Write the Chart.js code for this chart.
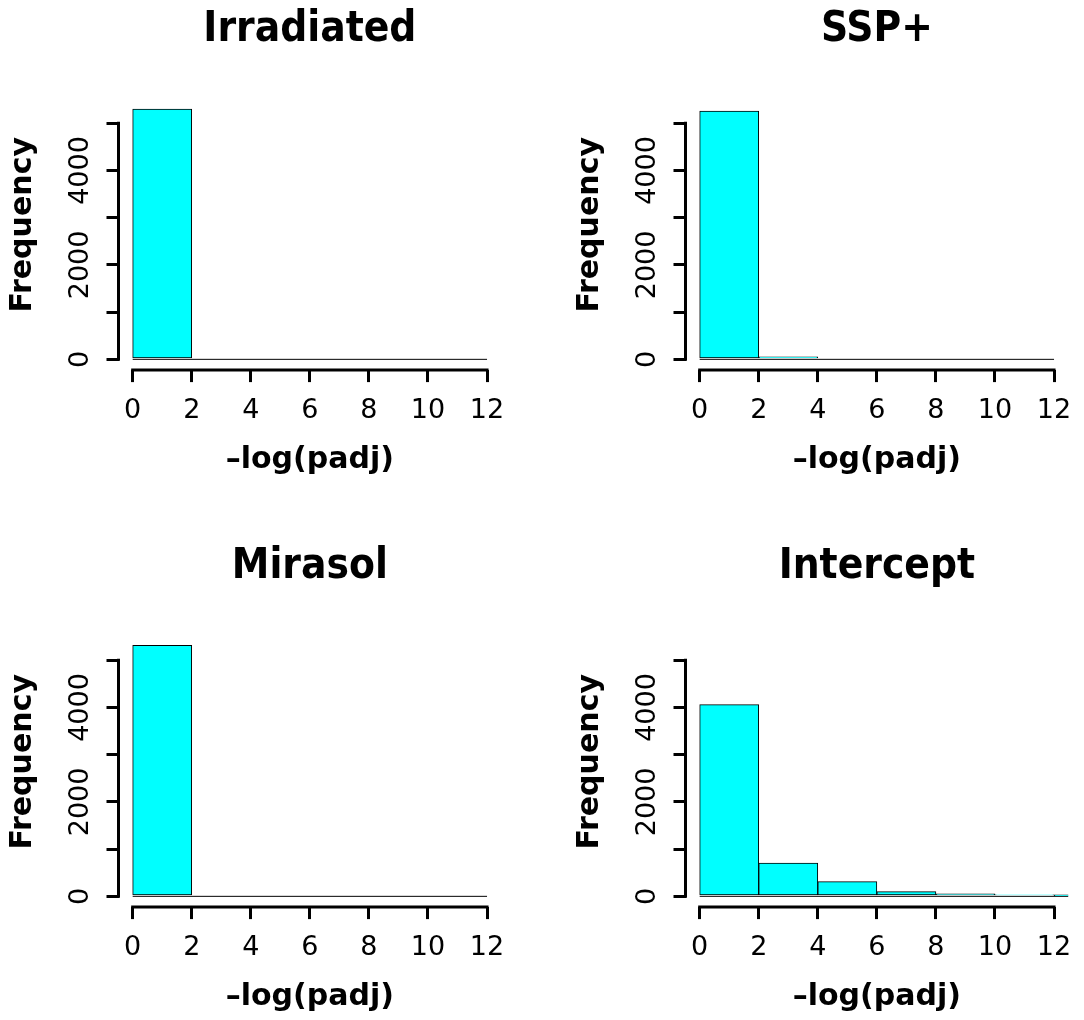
<!DOCTYPE html>
<html>
<head>
<meta charset="utf-8">
<script src="https://cdn.jsdelivr.net/npm/chart.js@4.4.1/dist/chart.umd.min.js"></script>
<style>
    html, body { margin: 0; padding: 0; background: #fff; }
    #page { position: relative; width: 1084px; height: 1020px; overflow: hidden; background: #fff; }
    #page canvas { position: absolute; }
</style>
</head>
<body>
<div id="page">
    <canvas id="chart0" width="517" height="538" style="left:0px;top:0px;"></canvas>
    <canvas id="chart1" width="517" height="538" style="left:567px;top:0px;"></canvas>
    <canvas id="chart2" width="517" height="538" style="left:0px;top:537px;"></canvas>
    <canvas id="chart3" width="517" height="538" style="left:567px;top:537px;"></canvas>
</div>
<script>
// histogram bins (-log(padj)) and counts
let breaks = [0, 2, 4, 6, 8, 10, 12];
let interceptBreaks = [0, 2, 4, 6, 8, 10, 12, 14];

let irradiatedCounts = [5303, 0, 0, 0, 0, 0];
let sspCounts = [5261, 52, 0, 0, 0, 0];
let mirasolCounts = [5318, 0, 0, 0, 0, 0];
let interceptCounts = [4060, 705, 310, 100, 55, 30, 12];

let xLimits = [0, 12];
let yLimits = [0, 5700];
let xTicks = [0, 2, 4, 6, 8, 10, 12];
let yTicks = [0, 1000, 2000, 3000, 4000, 5000];
let xTickLabels = ['0', '2', '4', '6', '8', '10', '12'];
let yTickLabels = ['0', '2000', '4000'];

Chart.defaults.font.family = "'DejaVu Sans', Verdana, sans-serif";
Chart.defaults.color = '#000';

// R draws its axis lines only from the first to the last tick
const rAxisLines = {
    id: 'rAxisLines',
    afterDraw(chart) {
        let ctx = chart.ctx;
        let area = chart.chartArea;
        let xs = chart.scales.x;
        let ys = chart.scales.y;

        ctx.save();
        ctx.strokeStyle = '#000';
        ctx.lineWidth = 3;
        ctx.lineCap = 'square';
        ctx.beginPath();
        ctx.moveTo(xs.getPixelForValue(xTicks[0]), area.bottom);
        ctx.lineTo(xs.getPixelForValue(xTicks[xTicks.length - 1]), area.bottom);
        ctx.moveTo(area.left, ys.getPixelForValue(yTicks[0]));
        ctx.lineTo(area.left, ys.getPixelForValue(yTicks[yTicks.length - 1]));
        ctx.stroke();
        ctx.restore();
    }
};

function makeHist(canvasId, title, counts, bins) {
    let bars = counts.map((c, i) => ({ x: (bins[i] + bins[i + 1]) / 2, y: c }));
    let baseline = [{ x: bins[0], y: 0 }, { x: bins[bins.length - 1], y: 0 }];
    let xPad = 0.04 * (xLimits[1] - xLimits[0]);
    let yPad = 0.04 * (yLimits[1] - yLimits[0]);

    return new Chart(document.getElementById(canvasId), {
        type: 'bar',
        data: {
            datasets: [
                {
                    label: title,
                    data: bars,
                    order: 1,
                    backgroundColor: '#00ffff',
                    borderColor: '#000',
                    borderWidth: 1,
                    borderSkipped: false,
                    barPercentage: 1,
                    categoryPercentage: 1
                },
                {
                    // zero-count bins still show as a flat outline, like R
                    type: 'line',
                    data: baseline,
                    order: 2,
                    borderColor: '#000',
                    borderWidth: 1,
                    pointRadius: 0
                }
            ]
        },
        options: {
            responsive: false,
            animation: false,
            devicePixelRatio: 1,
            layout: {
                padding: { top: 0, left: 0, right: 0, bottom: 47.9 }
            },
            plugins: {
                legend: { display: false },
                tooltip: { enabled: false },
                title: {
                    display: true,
                    text: title,
                    fullSize: false,
                    color: '#000',
                    font: { family: "'DejaVu Sans Condensed', 'DejaVu Sans', sans-serif", size: 42, weight: 'bold' },
                    padding: { top: 4.8, bottom: 24.3 }
                }
            },
            scales: {
                x: {
                    type: 'linear',
                    min: xLimits[0] - xPad,
                    max: xLimits[1] + xPad,
                    offset: false,
                    afterBuildTicks: s => { s.ticks = xTicks.map(v => ({ value: v })); },
                    ticks: {
                        autoSkip: false,
                        maxRotation: 0,
                        padding: 12.2,
                        color: '#000',
                        font: { size: 27 },
                        callback: v => xTickLabels.includes(String(v)) ? String(v) : ''
                    },
                    grid: {
                        offset: false,
                        drawOnChartArea: false,
                        tickLength: 12,
                        lineWidth: 3,
                        color: '#000'
                    },
                    border: { display: false },
                    title: {
                        display: true,
                        text: '–log(padj)',
                        color: '#000',
                        font: { size: 30, weight: 'bold' },
                        padding: { top: 0, bottom: 11.6 }
                    },
                    afterFit: s => { s.height = 120; }
                },
                y: {
                    type: 'linear',
                    min: yLimits[0] - yPad,
                    max: yLimits[1] + yPad,
                    afterBuildTicks: s => { s.ticks = yTicks.map(v => ({ value: v })); },
                    ticks: {
                        autoSkip: false,
                        minRotation: 90,
                        maxRotation: 90,
                        crossAlign: 'center',
                        padding: -9,
                        color: '#000',
                        font: { size: 27 },
                        callback: v => yTickLabels.includes(String(v)) ? String(v) : ''
                    },
                    grid: {
                        drawOnChartArea: false,
                        tickLength: 12,
                        lineWidth: 3,
                        color: '#000'
                    },
                    border: { display: false },
                    title: {
                        display: true,
                        text: 'Frequency',
                        color: '#000',
                        font: { size: 30, weight: 'bold' },
                        padding: { top: 5, bottom: 0 }
                    },
                    afterFit: s => { s.width = 118.5; }
                }
            }
        },
        plugins: [rAxisLines]
    });
}

makeHist('chart0', 'Irradiated', irradiatedCounts, breaks);
makeHist('chart1', 'SSP+', sspCounts, breaks);
makeHist('chart2', 'Mirasol', mirasolCounts, breaks);
makeHist('chart3', 'Intercept', interceptCounts, interceptBreaks);
</script>
</body>
</html>
